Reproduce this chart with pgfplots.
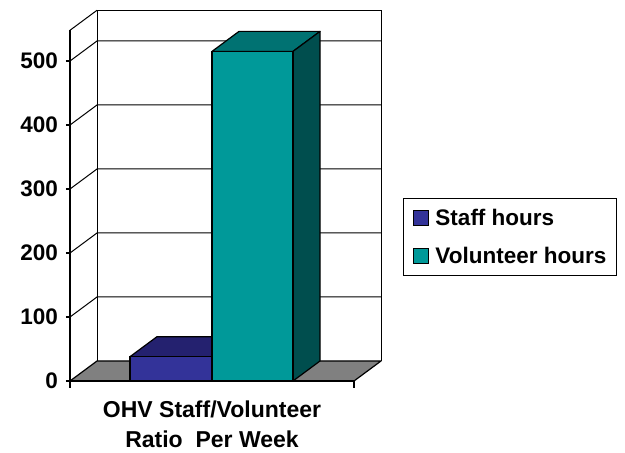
\documentclass[border=0pt]{standalone}
\usepackage{pgfplots}
\pgfplotsset{compat=1.18}
\usepackage{fontspec}
\setmainfont{Liberation Sans}
\definecolor{sf}{HTML}{333399}
\definecolor{st}{HTML}{24216F}
\definecolor{vf}{HTML}{009999}
\definecolor{vt}{HTML}{007272}
\definecolor{vs}{HTML}{004E4E}
\definecolor{fl}{HTML}{808080}
\newcommand{\cf}{\bfseries\fontsize{22.5bp}{30bp}\selectfont}
\begin{document}
\begin{tikzpicture}
\useasboundingbox (0,0) rectangle (625bp,453bp);
\begin{axis}[
  at={(70bp,72bp)}, anchor=south west,
  scale only axis, width=311bp, height=370.72bp,
  xmin=0, xmax=311, ymin=0, ymax=579.25,
  axis line style={draw=none},
  clip=false,
  xtick=\empty,
  ytick={0,100,200,300,400,500},
  ytick pos=left, tick align=outside, major tick length=4bp,
  tick style={black, line width=1.2bp},
  /pgf/number format/assume math mode=true,
  yticklabel style={font=\cf, inner sep=0pt, xshift=-8bp},
  xlabel={OHV Staff/Volunteer\\Ratio\ \ Per Week},
  xlabel style={at={(axis description cs:0.4566,0)}, anchor=north, yshift=-20bp,
    align=center, inner sep=0pt, font=\bfseries\fontsize{23bp}{30bp}\selectfont},
  legend style={at={(axis description cs:1.0707,0.4936)}, anchor=north west,
    draw=black, line width=1bp, inner xsep=10bp, inner ysep=10.5bp, row sep=20bp,
    column sep=6bp, nodes={inner sep=0pt},
    font=\cf, legend cell align=left},
]
% back wall and left wall
\draw[black, line width=1bp] (axis cs:27,31.25) -- (axis cs:27,579.25) -- (axis cs:311,579.25) -- (axis cs:311,31.25);
\draw[black, line width=1bp] (axis cs:0,100) -- (axis cs:27,131.25) -- (axis cs:311,131.25);
\draw[black, line width=1bp] (axis cs:0,200) -- (axis cs:27,231.25) -- (axis cs:311,231.25);
\draw[black, line width=1bp] (axis cs:0,300) -- (axis cs:27,331.25) -- (axis cs:311,331.25);
\draw[black, line width=1bp] (axis cs:0,400) -- (axis cs:27,431.25) -- (axis cs:311,431.25);
\draw[black, line width=1bp] (axis cs:0,500) -- (axis cs:27,531.25) -- (axis cs:311,531.25);
\draw[black, line width=1bp] (axis cs:0,548) -- (axis cs:27,579.25);
% floor
\addplot[fill=fl, draw=black, line width=1.2bp, line join=round, forget plot]
  coordinates {(0,0) (284,0) (311,31.25) (27,31.25) (0,0)};
\draw[black, line width=2bp] (axis cs:0,0) -- (axis cs:0,548);
\draw[black, line width=1.5bp] (axis cs:0,0) -- (axis cs:284,0);
\draw[black, line width=1.2bp] (axis cs:0,0) -- ++(0,-7bp);
\draw[black, line width=1.2bp] (axis cs:284,0) -- ++(0,-7bp);
% Staff bar
\addplot[fill=st, draw=black, line width=1.2bp, line join=round, forget plot]
  coordinates {(60,38) (142,38) (169,69.25) (87,69.25) (60,38)};
\addplot[ybar, bar width=82, bar shift=0, fill=sf, draw=black, line width=1.2bp,
  legend image code/.code={\draw[fill=sf, draw=black, line width=1bp] (0bp,-7.5bp) rectangle (15bp,7.5bp);}]
  coordinates {(101,38)};
\addlegendentry{Staff hours}
% Volunteer bar
\addplot[fill=vt, draw=black, line width=1.2bp, line join=round, forget plot]
  coordinates {(142,515) (223,515) (250,546.25) (169,546.25) (142,515)};
\addplot[fill=vs, draw=black, line width=1.2bp, line join=round, forget plot]
  coordinates {(223,0) (250,31.25) (250,546.25) (223,515) (223,0)};
\addplot[ybar, bar width=81, bar shift=0, fill=vf, draw=black, line width=1.2bp,
  legend image code/.code={\draw[fill=vf, draw=black, line width=1bp] (0bp,-7.5bp) rectangle (15bp,7.5bp);}]
  coordinates {(182.5,515)};
\addlegendentry{Volunteer hours}
\end{axis}
\end{tikzpicture}
\end{document}
